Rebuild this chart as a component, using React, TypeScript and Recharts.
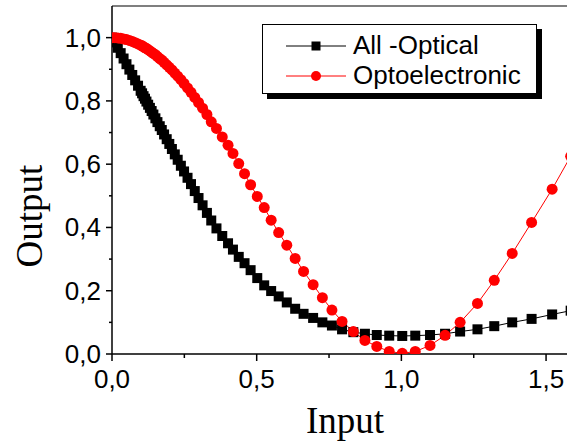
import React from 'react';
import { LineChart, Line, XAxis, YAxis, ReferenceLine } from 'recharts';

// input values (x) where the markers sit
const xInput = [
  0, 0.01, 0.02, 0.03, 0.04, 0.05, 0.06, 0.07, 0.08, 0.09,
  0.099, 0.104, 0.109, 0.114, 0.119, 0.125, 0.131, 0.137, 0.143, 0.15,
  0.157, 0.165, 0.172, 0.18, 0.189, 0.198, 0.207, 0.217, 0.227, 0.238,
  0.249, 0.261, 0.273, 0.286, 0.299, 0.313, 0.328, 0.343, 0.361, 0.381,
  0.401, 0.418, 0.438, 0.458, 0.479, 0.502, 0.526, 0.55, 0.576, 0.604,
  0.633, 0.662, 0.695, 0.727, 0.76, 0.795, 0.834, 0.874, 0.915, 0.958,
  1.003, 1.048, 1.099, 1.151, 1.203, 1.263, 1.321, 1.383, 1.45, 1.521,
  1.585,
];

const allOptical = [
  1.0, 0.985, 0.968, 0.951, 0.934, 0.916, 0.899, 0.882, 0.865, 0.848,
  0.832, 0.824, 0.815, 0.807, 0.798, 0.788, 0.778, 0.768, 0.757, 0.745,
  0.733, 0.72, 0.708, 0.694, 0.679, 0.664, 0.648, 0.631, 0.614, 0.595,
  0.577, 0.557, 0.537, 0.515, 0.493, 0.47, 0.446, 0.422, 0.397, 0.373,
  0.35, 0.33, 0.307, 0.287, 0.265, 0.24, 0.217, 0.199, 0.182, 0.163,
  0.143, 0.127, 0.114, 0.1, 0.09, 0.078, 0.069, 0.064, 0.06, 0.058,
  0.057, 0.058, 0.06, 0.064, 0.071, 0.078, 0.088, 0.1, 0.111, 0.125,
  0.137,
];

const optoelectronic = [
  1.0, 1.0, 0.999, 0.998, 0.996, 0.994, 0.991, 0.988, 0.984, 0.98,
  0.976, 0.974, 0.971, 0.968, 0.966, 0.962, 0.958, 0.954, 0.95, 0.946,
  0.94, 0.934, 0.929, 0.922, 0.914, 0.906, 0.898, 0.888, 0.878, 0.867,
  0.855, 0.841, 0.827, 0.811, 0.795, 0.777, 0.757, 0.734, 0.713, 0.686,
  0.66, 0.634, 0.602, 0.57, 0.535, 0.498, 0.463, 0.423, 0.384, 0.344,
  0.302, 0.261, 0.219, 0.178, 0.139, 0.103, 0.071, 0.043, 0.024, 0.008,
  0.002, 0.008, 0.027, 0.059, 0.1, 0.16, 0.233, 0.318, 0.416, 0.521,
  0.625,
];

const xTicks = [0, 0.25, 0.5, 0.75, 1.0, 1.25, 1.5];
const yTicks = [0, 0.1, 0.2, 0.3, 0.4, 0.5, 0.6, 0.7, 0.8, 0.9, 1.0];

const data = xInput.map((x, i) => ({ x, a: allOptical[i], o: optoelectronic[i] }));

const sans = '"Liberation Sans", Arial, sans-serif';
const serif = '"Liberation Serif", "Times New Roman", serif';

const fmt = (v: number, d: number) => v.toFixed(d).replace('.', ',');

const XTick = ({ x, y, payload }: any) => {
  const v = payload.value;
  const major = Math.round(v * 4) % 2 === 0;
  return (
    <g>
      <line x1={x} x2={x} y1={y} y2={y + (major ? 7 : 4)} stroke="#000" strokeWidth={1.5} />
      {major && (
        <text x={x} y={y + 34} textAnchor="middle" fontFamily={sans} fontSize={26} fill="#000">
          {fmt(v, 1)}
        </text>
      )}
    </g>
  );
};

const YTick = ({ x, y, payload }: any) => {
  const v = payload.value;
  const major = Math.round(v * 10) % 2 === 0;
  return (
    <g>
      <line x1={x - (major ? 6 : 3)} x2={x} y1={y} y2={y} stroke="#000" strokeWidth={1.5} />
      {major && (
        <text x={x - 11} y={y + 9} textAnchor="end" fontFamily={sans} fontSize={26} fill="#000">
          {fmt(v, 1)}
        </text>
      )}
    </g>
  );
};

const Square = (props: any) => {
  const { cx, cy, index } = props;
  if (cx == null || cy == null) return <g key={index} />;
  return <rect key={index} x={cx - 5} y={cy - 5} width={10} height={10} fill="#000" />;
};

const Circle = (props: any) => {
  const { cx, cy, index } = props;
  if (cx == null || cy == null) return <g key={index} />;
  return <circle key={index} cx={cx} cy={cy} r={5.5} fill="#ff0000" />;
};

const LegendBox = () => (
  <div
    style={{
      position: 'absolute',
      left: 262,
      top: 24,
      width: 273,
      height: 68,
      border: '1px solid #000',
      background: '#fff',
      boxShadow: '5px 5px 0 #000',
      fontFamily: sans,
      fontSize: 26,
      color: '#000',
    }}
  >
    <svg width={90} height={68} style={{ position: 'absolute', left: 0, top: 0 }}>
      <line x1={23} x2={83} y1={21} y2={21} stroke="#000" strokeWidth={1} />
      <rect x={48.5} y={16.5} width={9} height={9} fill="#000" />
      <line x1={23} x2={83} y1={51} y2={51} stroke="#ff0000" strokeWidth={1} />
      <circle cx={53} cy={51} r={5} fill="#ff0000" />
    </svg>
    <div style={{ position: 'absolute', left: 90, top: 5, lineHeight: '30px' }}>All -Optical</div>
    <div style={{ position: 'absolute', left: 90, top: 35, lineHeight: '30px' }}>Optoelectronic</div>
  </div>
);

export default function App() {
  return (
    <div style={{ position: 'fixed', left: 0, top: 0, width: 567, height: 446, overflow: 'hidden', background: '#fff' }}>
      <LineChart width={590} height={446} data={data} margin={{ top: 6, right: 15, left: 0, bottom: 0 }}>
        <XAxis
          dataKey="x"
          type="number"
          domain={[0, 1.6]}
          allowDataOverflow
          ticks={xTicks}
          interval={0}
          tickLine={false}
          tickSize={0}
          tickMargin={0}
          tick={<XTick />}
          height={92}
          axisLine={{ stroke: '#000', strokeWidth: 1.5 }}
          label={() => (
            <text x={345} y={433} textAnchor="middle" fontFamily={serif} fontSize={37} fill="#000">
              Input
            </text>
          )}
        />
        <YAxis
          type="number"
          domain={[0, 1.1]}
          allowDataOverflow
          ticks={yTicks}
          interval={0}
          tickLine={false}
          tickSize={0}
          tickMargin={0}
          tick={<YTick />}
          width={112}
          axisLine={{ stroke: '#000', strokeWidth: 1.5 }}
          label={() => (
            <text
              x={29}
              y={216}
              transform="rotate(-90 29 216)"
              textAnchor="middle"
              dominantBaseline="central"
              fontFamily={serif}
              fontSize={37}
              fill="#000"
            >
              Output
            </text>
          )}
        />
        <ReferenceLine y={1.1} stroke="#7f7f7f" strokeWidth={2} />
        <Line dataKey="a" stroke="#000" strokeWidth={1} dot={Square} activeDot={false} isAnimationActive={false} />
        <Line dataKey="o" stroke="#ff0000" strokeWidth={1} dot={Circle} activeDot={false} isAnimationActive={false} />
      </LineChart>
      <LegendBox />
    </div>
  );
}
